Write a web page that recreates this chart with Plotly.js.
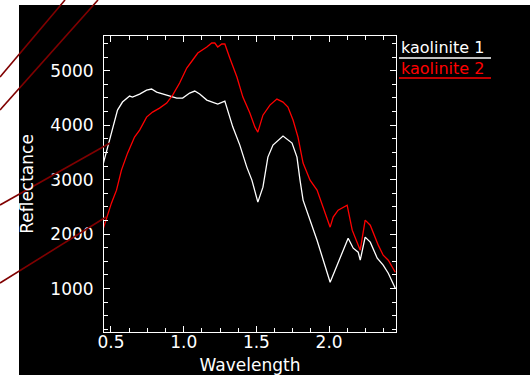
<!DOCTYPE html>
<html>
<head>
<meta charset="utf-8">
<script src="https://cdn.plot.ly/plotly-3.0.1.min.js"></script>
<style>
html,body{margin:0;padding:0;background:#fff;}
#chart{width:530px;height:375px;}
</style>
</head>
<body>
<div id="chart"></div>
<script>
// ---- data ----
const wl1 = [0.448,0.476,0.510,0.545,0.579,0.628,0.648,0.697,0.745,0.779,0.814,0.855,0.903,0.952,0.993,1.041,1.076,1.110,1.159,1.200,1.234,1.283,1.303,1.338,1.386,1.434,1.469,1.510,1.545,1.579,1.614,1.683,1.745,1.779,1.800,1.821,1.917,2.007,2.055,2.131,2.166,2.200,2.214,2.248,2.283,2.331,2.372,2.407,2.455];
const kaolinite1 = [3304,3579,3965,4278,4425,4535,4517,4572,4645,4664,4609,4572,4535,4498,4498,4590,4627,4572,4461,4425,4388,4443,4278,3965,3634,3230,2991,2587,2862,3414,3634,3800,3671,3414,2991,2624,1888,1116,1429,1925,1741,1668,1521,1944,1852,1558,1429,1282,1006];

const wl2 = [0.448,0.469,0.503,0.538,0.572,0.614,0.662,0.697,0.745,0.786,0.834,0.883,0.924,0.972,1.021,1.062,1.097,1.159,1.193,1.214,1.234,1.262,1.283,1.317,1.366,1.407,1.455,1.490,1.510,1.545,1.593,1.641,1.683,1.717,1.752,1.786,1.821,1.869,1.917,2.007,2.028,2.062,2.124,2.159,2.214,2.248,2.283,2.338,2.372,2.407,2.455];
const kaolinite2 = [2109,2293,2568,2807,3175,3487,3782,3910,4149,4241,4314,4406,4553,4774,5050,5197,5325,5436,5509,5509,5436,5491,5491,5233,4884,4516,4223,3965,3873,4184,4369,4480,4425,4333,4094,3782,3304,2991,2807,2127,2311,2440,2532,2072,1705,2256,2164,1797,1613,1521,1300];

const seriesNames = ["kaolinite 1", "kaolinite 2"];
const xTitle = "Wavelength";
const yTitle = "Reflectance";

// ---- layout helpers (pixel -> paper) ----
const M = {l:104, r:134, t:36, b:43};
const W = 530 - M.l - M.r, H = 375 - M.t - M.b;
const px = x => (x - M.l) / W;
const py = y => 1 - (y - M.t) / H;
const FONT = "DejaVu Sans";
const darkRed = "#800000";

function seg(x0,y0,x1,y1,color,width,layer){
  return {type:'line', xref:'paper', yref:'paper', x0:px(x0), y0:py(y0), x1:px(x1), y1:py(y1),
          line:{color:color, width:width}, layer:layer||'above'};
}

const traces = [
  {x: wl1, y: kaolinite1, type:'scatter', mode:'lines', name: seriesNames[0],
   line:{color:'#ffffff', width:1.3}},
  {x: wl2, y: kaolinite2, type:'scatter', mode:'lines', name: seriesNames[1],
   line:{color:'#ff0000', width:1.3}}
];

const axisCommon = {
  showline:true, linecolor:'#ffffff', linewidth:1, mirror:'allticks',
  ticks:'inside', tickcolor:'#ffffff', tickwidth:1, ticklen:6,
  showgrid:false, zeroline:false,
  tickfont:{family:FONT, size:17, color:'#ffffff'}
};

const layout = {
  width:530, height:375,
  margin:M,
  paper_bgcolor:'#ffffff',
  plot_bgcolor:'#000000',
  showlegend:false,
  xaxis: Object.assign({}, axisCommon, {
    range:[0.452, 2.46], tick0:0.5, dtick:0.5, tickformat:'.1f',
    minor:{dtick:0.125, ticks:'inside', ticklen:4, tickcolor:'#ffffff', showgrid:false},
    title:{text:xTitle, font:{family:FONT, size:17, color:'#ffffff'}, standoff:-2},
    ticklabelstandoff:-5
  }),
  yaxis: Object.assign({}, axisCommon, {
    range:[202, 5638], tick0:0, dtick:1000,
    minor:{dtick:250, ticks:'inside', ticklen:4, tickcolor:'#ffffff', showgrid:false},
    title:{text:yTitle, font:{family:FONT, size:17, color:'#ffffff'}, standoff:12},
    ticklabelstandoff:6
  }),
  shapes:[
    {type:'rect', xref:'paper', yref:'paper', x0:px(19), x1:px(530), y0:py(5), y1:py(375),
     fillcolor:'#000000', line:{width:0}, layer:'below'},
    seg(399,58,491,58,'#ffffff',1.5),
    seg(399,78,491,78,'#ff0000',1.5),
    seg(65,0,0,77,darkRed,1.6),
    seg(98,0,0,110,darkRed,1.6),
    seg(110,143,0,205,darkRed,1.6),
    seg(106,217,0,283,darkRed,1.6)
  ],
  annotations:[
    {xref:'paper', yref:'paper', x:px(399), y:py(47), xanchor:'left', yanchor:'middle',
     text:seriesNames[0], showarrow:false, font:{family:FONT, size:16, color:'#ffffff'}},
    {xref:'paper', yref:'paper', x:px(399), y:py(68), xanchor:'left', yanchor:'middle',
     text:seriesNames[1], showarrow:false, font:{family:FONT, size:16, color:'#ff0000'}}
  ]
};

Plotly.newPlot('chart', traces, layout, {displayModeBar:false, staticPlot:true});
</script>
</body>
</html>
